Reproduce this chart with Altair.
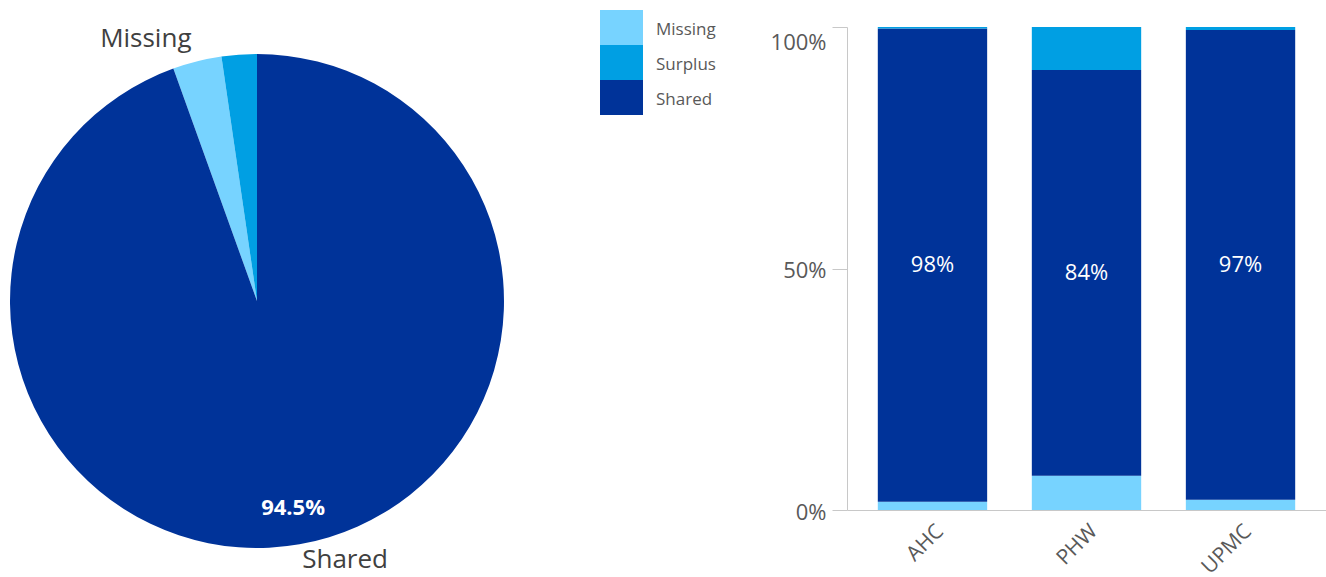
import altair as alt
import pandas as pd

FONT = "Open Sans"

# Segments and colours
categories = ["Missing", "Surplus", "Shared"]
colors = ["#77d3ff", "#009fe3", "#003399"]

# Pie values (percent)
pie_values = [3.2, 2.3, 94.5]          # Missing, Surplus, Shared
pie_order = [1, 2, 0]                   # clockwise order from 12 o'clock

# Bar values (percent)
groups = ["AHC", "PHW", "UPMC"]
missing = [1.7, 7.1, 2.1]
shared = [98.0, 84.0, 97.3]
surplus = [0.3, 8.9, 0.6]
bar_order = {"Missing": 0, "Shared": 1, "Surplus": 2}

color_scale = alt.Scale(domain=categories, range=colors)

# ---------------- Pie ----------------
pie_df = pd.DataFrame({"segment": categories, "value": pie_values, "order": pie_order})

pbase = alt.Chart(pie_df).encode(
    theta=alt.Theta("value:Q", stack=True),
    order=alt.Order("order:Q"),
    x=alt.value(257),
    y=alt.value(301),
)
arcs = pbase.mark_arc(outerRadius=247).encode(
    color=alt.Color("segment:N", scale=color_scale, legend=None)
)
lab_left = pbase.transform_calculate(
    lbl="datum.segment == 'Missing' ? datum.segment : ''"
).mark_text(radius=270, align="right", baseline="middle", fontSize=26,
            font=FONT, color="#404040").encode(text="lbl:N")
lab_right = pbase.transform_calculate(
    lbl="datum.segment == 'Shared' ? datum.segment : ''"
).mark_text(radius=263, align="left", baseline="middle", fontSize=26,
            font=FONT, color="#404040").encode(text="lbl:N")
lab_in = pbase.transform_calculate(
    lbl="datum.segment == 'Shared' ? format(datum.value / 100, '.1%') : ''"
).mark_text(radius=210, align="center", baseline="middle", fontSize=22,
            fontWeight="bold", font=FONT, color="white").encode(text="lbl:N")

pie = alt.layer(arcs, lab_left, lab_right, lab_in).properties(width=590, height=577)

# ---------------- Legend ----------------
leg_df = pd.DataFrame({"segment": categories})
lbase = alt.Chart(leg_df).encode(
    y=alt.Y("segment:N", sort=categories,
            scale=alt.Scale(range=[10, 115], paddingInner=0, paddingOuter=0),
            axis=None)
)
leg_rect = lbase.mark_rect().encode(
    x=alt.value(10), x2=alt.value(53),
    color=alt.Color("segment:N", scale=color_scale, legend=None),
)
leg_text = lbase.mark_text(align="left", baseline="middle", fontSize=17, dy=2,
                           font=FONT, color="#595959").encode(
    x=alt.value(66), text="segment:N")
legend = alt.layer(leg_rect, leg_text).properties(width=257, height=120)

# ---------------- Bars ----------------
rows = []
for g, m, s, u in zip(groups, missing, shared, surplus):
    for seg, v in (("Missing", m), ("Shared", s), ("Surplus", u)):
        rows.append({"group": g, "segment": seg, "value": v, "order": bar_order[seg]})
bar_df = pd.DataFrame(rows)
wide_df = pd.DataFrame({"group": groups, "missing": missing, "shared": shared, "surplus": surplus})

y_scale = alt.Scale(domain=[0, 1], range=[510, 27])
y_axis = alt.Axis(values=[0, 0.5, 1], format=".0%", title=None, grid=False,
                  tickSize=15, tickColor="#c8c8c8", domainColor="#c8c8c8",
                  labelFontSize=22, labelColor="#595959", labelFont=FONT,
                  labelPadding=6,
                  labelOffset={"condition": {"test": "datum.value == 1", "value": 15},
                               "value": 2})
x_enc = alt.X("group:N", sort=groups,
              scale=alt.Scale(paddingInner=0.29, paddingOuter=0.2),
              axis=alt.Axis(title=None, labelAngle=315, ticks=False,
                            domainColor="#c8c8c8", labelFontSize=21,
                            labelColor="#595959", labelFont=FONT,
                            labelPadding=10))

bars = alt.Chart(bar_df).mark_bar().encode(
    x=x_enc,
    y=alt.Y("value:Q", stack="normalize", scale=y_scale, axis=y_axis),
    color=alt.Color("segment:N", scale=color_scale, legend=None),
    order=alt.Order("order:Q"),
)
bar_text = alt.Chart(wide_df).transform_calculate(
    tot="datum.missing + datum.shared + datum.surplus",
    mid="(datum.missing + datum.shared / 2) / datum.tot",
    frac="datum.shared / datum.tot",
).mark_text(color="white", fontSize=22, font=FONT, baseline="middle").encode(
    x=x_enc,
    y=alt.Y("mid:Q", scale=y_scale, axis=y_axis),
    text=alt.Text("frac:Q", format=".0%"),
)
barchart = alt.layer(bars, bar_text).properties(width=479, height=510)

chart = alt.hconcat(pie, legend, barchart, spacing=0, bounds="flush").properties(
    padding=0
).configure_view(strokeWidth=0)

chart.save("out.html", embed_options={"renderer": "svg", "actions": False})
